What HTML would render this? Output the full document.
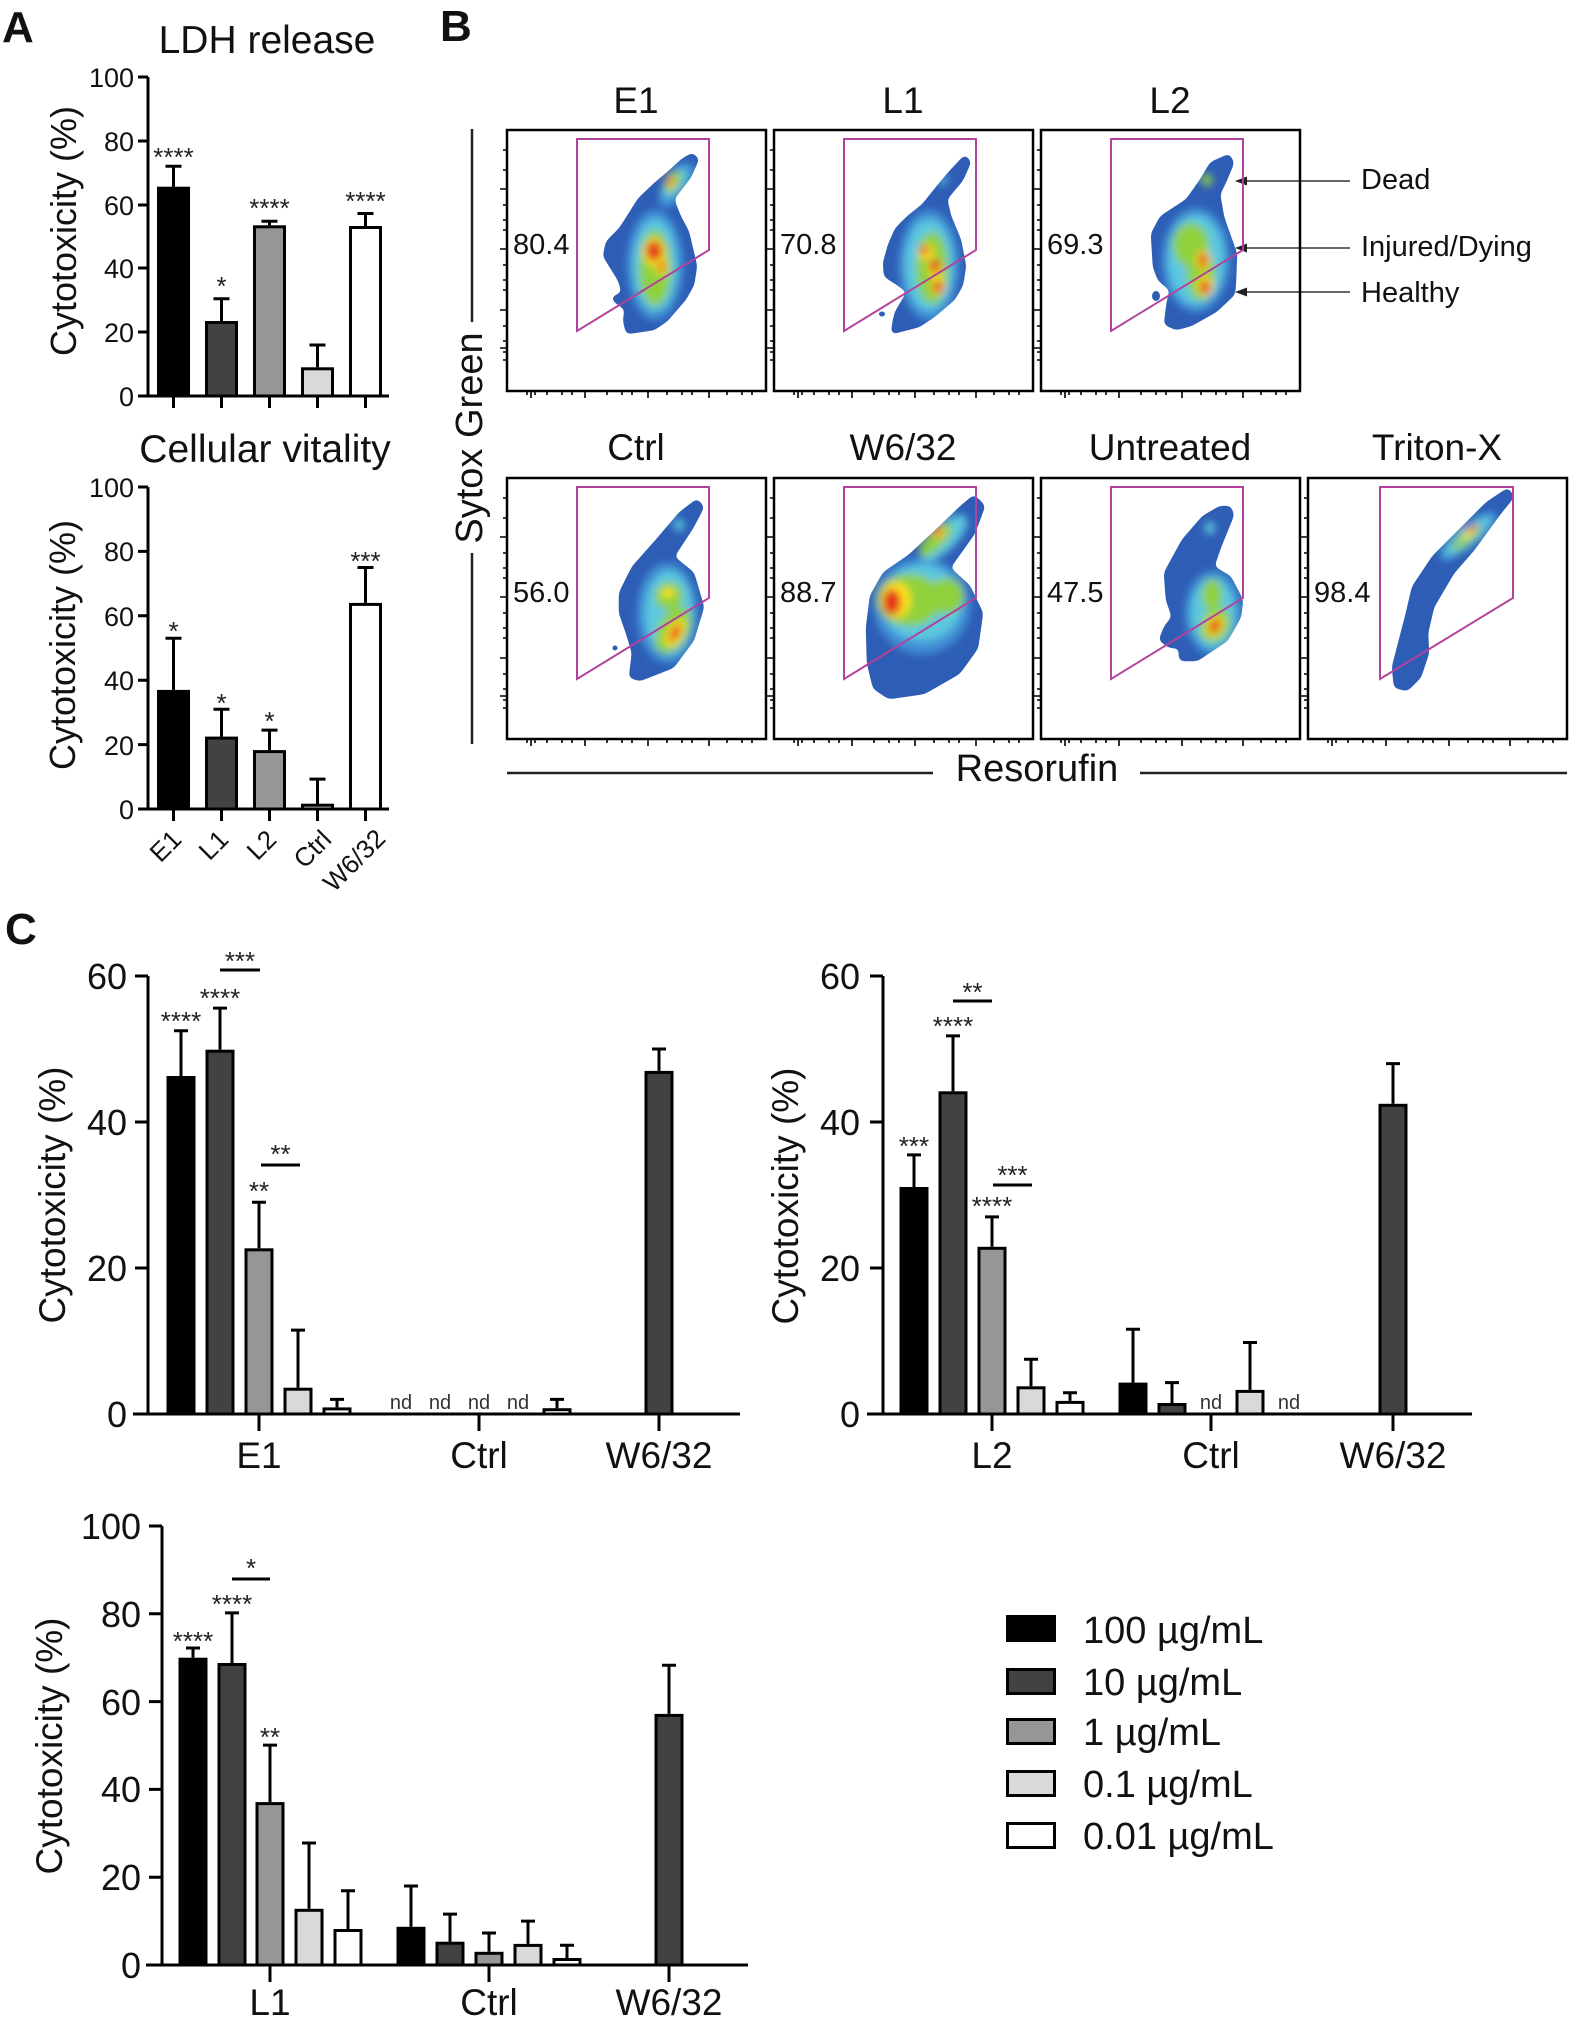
<!DOCTYPE html>
<html><head><meta charset="utf-8">
<style>
html,body{margin:0;padding:0;background:#fff;}
svg{display:block;}
text{font-family:"Liberation Sans",Arial,sans-serif;fill:#111;}
.ax{stroke:#000;stroke-width:3;fill:none;}
.eb{stroke:#000;stroke-width:3;fill:none;}
.br{stroke:#000;stroke-width:3;}
.st{font-size:26px;fill:#222;}
.nd{font-size:20px;fill:#333;}
.fr{fill:none;stroke:#000;stroke-width:2.5;}
.tk{stroke:#000;stroke-width:1.6;fill:none;}
.gate{fill:none;stroke:#b3429c;stroke-width:2;}
.blob{fill:#2d5db5;stroke:#2d5db5;stroke-width:2;stroke-linejoin:round;}
.lb{fill:#3f8fd6}.cy{fill:#5cc8e0}.gr{fill:#8fd13a}.ye{fill:#ffe21a}.re{fill:#e3261c}
.num{font-size:29px;}
.pt{font-size:37px;}
</style></head>
<body>
<svg width="1575" height="2021" viewBox="0 0 1575 2021" xmlns="http://www.w3.org/2000/svg">
<defs>
<filter id="bl" x="-30%" y="-30%" width="160%" height="160%"><feGaussianBlur stdDeviation="3"/></filter>
<filter id="goo" x="-15%" y="-15%" width="130%" height="130%"><feGaussianBlur in="SourceGraphic" stdDeviation="3" result="b"/><feComponentTransfer in="b"><feFuncA type="linear" slope="14" intercept="-6"/></feComponentTransfer></filter>
<path id="tks" d="M0,20 h-4 M0,40 h-4 M0,59 h-7 M0,75 h-4 M0,90 h-4 M0,100 h-4 M0,119 h-7 M0,135 h-4 M0,150 h-4 M0,160 h-4 M0,180 h-7 M0,196 h-4 M0,211 h-4 M0,218 h-7 M0,222 h-4 M0,230 h-4 M20,261 v4 M24,261 v7 M28,261 v4 M40,261 v4 M55,261 v4 M65,261 v4 M78,261 v7 M100,261 v4 M115,261 v4 M125,261 v4 M141,261 v7 M160,261 v4 M175,261 v4 M185,261 v4 M202,261 v7 M220,261 v4 M235,261 v4 M245,261 v4"/>
<path id="bE1" d="M185,24 L191,29 L183,47 L166,69 L172,85 L181,102 L189,136 L186,155 L178,169 L160,190 L147,199 L120,203 L117,190 L119,179 L109,172 L105,168 L116,163 L112,150 L97,126 L100,112 L113,99 L132,69 L150,52 L162,42 L175,30 Z"/>
<path id="bL1" d="M191,26 L196,32 L188,50 L172,69 L176,86 L186,110 L191,136 L188,155 L180,169 L160,186 L145,196 L118,203 L120,190 L122,182 L134,162 L125,155 L111,146 L110,133 L115,115 L122,99 L135,86 L149,75 L165,55 L176,42 Z"/>
<path id="bL2" d="M188,25 L192,33 L184,52 L178,64 L182,87 L195,124 L194,150 L193,164 L175,181 L150,195 L135,199 L124,194 L127,171 L130,160 L118,150 L113,137 L111,104 L120,87 L146,70 L160,50 L170,33 Z"/>
<path id="bCt" d="M190,22 L196,29 L185,50 L166,79 L186,95 L196,129 L186,162 L166,189 L133,202 L123,199 L126,175 L120,155 L113,135 L113,115 L126,89 L150,62 L173,35 Z"/>
<path id="bW6" d="M200,18 L210,28 L200,55 L175,90 L195,108 L208,135 L203,170 L185,195 L150,215 L115,220 L100,210 L94,185 L93,150 L97,118 L110,95 L135,78 L165,50 L188,28 Z"/>
<path id="bUn" d="M189,29 L192,37 L179,69 L172,89 L189,99 L201,122 L199,139 L186,162 L156,182 L139,182 L139,169 L129,169 L119,162 L124,149 L132,139 L126,122 L124,95 L142,62 L162,39 L179,29 Z"/>
<path id="bTr" d="M200,11 L205,19 L192,35 L165,72 L145,95 L125,129 L119,155 L120,175 L112,199 L99,212 L87,209 L85,189 L92,162 L99,135 L105,109 L125,79 L152,52 L179,25 Z"/>
<clipPath id="cE1"><use href="#bE1"/></clipPath>
<clipPath id="cL1"><use href="#bL1"/></clipPath>
<clipPath id="cL2"><use href="#bL2"/></clipPath>
<clipPath id="cCt"><use href="#bCt"/></clipPath>
<clipPath id="cW6"><use href="#bW6"/></clipPath>
<clipPath id="cUn"><use href="#bUn"/></clipPath>
<clipPath id="cTr"><use href="#bTr"/></clipPath>
</defs>

<!-- Panel labels -->
<text x="2" y="42" font-size="44" font-weight="bold">A</text>
<text x="440" y="41" font-size="44" font-weight="bold">B</text>
<text x="5" y="944" font-size="44" font-weight="bold">C</text>

<!-- ===== Panel A top: LDH release ===== -->
<text x="267" y="53" text-anchor="middle" font-size="39">LDH release</text>
<text transform="translate(76,231) rotate(-90)" text-anchor="middle" font-size="36">Cytotoxicity (%)</text>
<g font-size="27" text-anchor="end">
<text x="134" y="87">100</text><text x="134" y="151">80</text><text x="134" y="215">60</text>
<text x="134" y="278">40</text><text x="134" y="342">20</text><text x="134" y="406">0</text>
</g>
<rect class="br" x="158.5" y="188.2" width="30" height="207.8" fill="#000"/>
<rect class="br" x="206.5" y="322.5" width="30" height="73.5" fill="#424242"/>
<rect class="br" x="254.5" y="226.8" width="30" height="169.2" fill="#969696"/>
<rect class="br" x="302.5" y="368.8" width="30" height="27.2" fill="#d9d9d9"/>
<rect class="br" x="350.5" y="227.5" width="30" height="168.5" fill="#fff"/>
<path class="eb" d="M173.5,186.7 V166.3 M165.5,166.3 H181.5 M221.5,321 V298.7 M213.5,298.7 H229.5 M269.5,225.3 V221.2 M261.5,221.2 H277.5 M317.5,367.3 V345 M309.5,345 H325.5 M365.5,226 V213.5 M357.5,213.5 H373.5"/>
<path class="ax" d="M148,77 V396 M138,77 H148 M138,141 H148 M138,205 H148 M138,268 H148 M138,332 H148 M138,396 H389 M173.5,396 V408 M221.5,396 V408 M269.5,396 V408 M317.5,396 V408 M365.5,396 V408"/>
<g text-anchor="middle">
<text class="st" x="173.5" y="166">****</text><text class="st" x="221.5" y="295">*</text>
<text class="st" x="269.5" y="217">****</text><text class="st" x="365.5" y="210">****</text>
</g>

<!-- ===== Panel A bottom: Cellular vitality ===== -->
<text x="265" y="462" text-anchor="middle" font-size="39">Cellular vitality</text>
<text transform="translate(75,645) rotate(-90)" text-anchor="middle" font-size="36">Cytotoxicity (%)</text>
<g font-size="27" text-anchor="end">
<text x="134" y="497">100</text><text x="134" y="561">80</text><text x="134" y="626">60</text>
<text x="134" y="690">40</text><text x="134" y="755">20</text><text x="134" y="819">0</text>
</g>
<rect class="br" x="158.5" y="691.4" width="30" height="117.6" fill="#000"/>
<rect class="br" x="206.5" y="738.1" width="30" height="70.9" fill="#424242"/>
<rect class="br" x="254.5" y="751.6" width="30" height="57.4" fill="#969696"/>
<rect class="br" x="302.5" y="805.2" width="30" height="3.8" fill="#d9d9d9"/>
<rect class="br" x="350.5" y="604.4" width="30" height="204.6" fill="#fff"/>
<path class="eb" d="M173.5,689.9 V638.3 M165.5,638.3 H181.5 M221.5,736.6 V709.2 M213.5,709.2 H229.5 M269.5,750.1 V730.1 M261.5,730.1 H277.5 M317.5,804.2 V779.1 M309.5,779.1 H325.5 M365.5,602.9 V567.5 M357.5,567.5 H373.5"/>
<path class="ax" d="M148,487 V809 M138,487 H148 M138,551.4 H148 M138,615.8 H148 M138,680.2 H148 M138,744.6 H148 M138,809 H389 M173.5,809 V821 M221.5,809 V821 M269.5,809 V821 M317.5,809 V821 M365.5,809 V821"/>
<g text-anchor="middle">
<text class="st" x="173.5" y="640">*</text><text class="st" x="221.5" y="712">*</text>
<text class="st" x="269.5" y="730">*</text><text class="st" x="365.5" y="570">***</text>
</g>
<g font-size="26" text-anchor="end">
<text transform="translate(183,841) rotate(-45)">E1</text>
<text transform="translate(230,841) rotate(-45)">L1</text>
<text transform="translate(278,841) rotate(-45)">L2</text>
<text transform="translate(333,841) rotate(-45)">Ctrl</text>
<text transform="translate(387,840) rotate(-45)">W6/32</text>
</g>

<!-- ===== Panel B ===== -->
<g text-anchor="middle">
<text class="pt" x="636" y="113">E1</text><text class="pt" x="903" y="113">L1</text><text class="pt" x="1170" y="113">L2</text>
<text class="pt" x="636" y="460">Ctrl</text><text class="pt" x="903" y="460">W6/32</text><text class="pt" x="1170" y="460">Untreated</text><text class="pt" x="1437" y="460">Triton-X</text>
</g>
<path d="M472,129 V322 M472,553 V744 M507,773 H933 M1140,773 H1567" stroke="#222" stroke-width="2.5" fill="none"/>
<text transform="translate(482,438) rotate(-90)" text-anchor="middle" font-size="38">Sytox Green</text>
<text x="1037" y="781" text-anchor="middle" font-size="38">Resorufin</text>

<!-- annotations -->
<g stroke="#333" stroke-width="1.6" fill="none">
<path d="M1350,181 H1245 M1350,248 H1245 M1350,292 H1245"/>
</g>
<g fill="#222">
<polygon points="1235,181 1247,176.5 1247,185.5"/>
<polygon points="1235,248 1247,243.5 1247,252.5"/>
<polygon points="1235,292 1247,287.5 1247,296.5"/>
</g>
<g font-size="29">
<text x="1361" y="189">Dead</text>
<text x="1361" y="256">Injured/Dying</text>
<text x="1361" y="302">Healthy</text>
</g>

<!-- E1 plot -->
<g transform="translate(507,130)">
<use href="#tks" class="tk"/>
<g filter="url(#goo)">
<use href="#bE1" class="blob"/>
<g clip-path="url(#cE1)"><g filter="url(#bl)">
<ellipse class="lb" cx="148" cy="135" rx="28" ry="55"/><ellipse class="lb" cx="170" cy="55" rx="12" ry="26" transform="rotate(35 170 55)"/>
<ellipse class="cy" cx="148" cy="135" rx="22" ry="46"/><ellipse class="cy" cx="168" cy="53" rx="8" ry="18" transform="rotate(35 168 53)"/>
<ellipse class="gr" cx="148" cy="138" rx="16" ry="38"/><ellipse class="gr" cx="166" cy="52" rx="6" ry="12" transform="rotate(35 166 52)"/>
<ellipse class="ye" cx="147" cy="122" rx="11" ry="14"/><ellipse class="ye" cx="155" cy="137" rx="6" ry="8"/><ellipse class="ye" cx="164" cy="52" rx="4" ry="7"/>
<ellipse class="re" cx="147" cy="121" rx="8" ry="10"/><ellipse class="re" cx="155" cy="137" rx="3.5" ry="5"/><ellipse class="re" cx="164" cy="52" rx="2.5" ry="4"/>
</g></g>
</g>
<polygon class="gate" points="70,9 202,9 202,120 70,201"/>
<rect class="fr" x="0" y="0" width="259" height="261"/>
<text class="num" x="6" y="124">80.4</text>
</g>

<!-- L1 plot -->
<g transform="translate(774,130)">
<use href="#tks" class="tk"/>
<g filter="url(#goo)">
<use href="#bL1" class="blob"/>
<g clip-path="url(#cL1)"><g filter="url(#bl)">
<ellipse class="lb" cx="155" cy="135" rx="30" ry="55"/>
<ellipse class="cy" cx="155" cy="135" rx="24" ry="46"/><ellipse class="cy" cx="168" cy="49" rx="5" ry="6"/>
<ellipse class="gr" cx="158" cy="138" rx="16" ry="36"/>
<ellipse class="ye" cx="152" cy="122" rx="8" ry="8"/><ellipse class="ye" cx="161" cy="138" rx="7" ry="9"/><ellipse class="ye" cx="164" cy="156" rx="7" ry="9"/>
<ellipse class="re" cx="150" cy="120" rx="5" ry="4"/><ellipse class="re" cx="161" cy="136" rx="5" ry="7"/><ellipse class="re" cx="164" cy="157" rx="5" ry="6"/>
</g></g>
</g>
<ellipse cx="108" cy="184" rx="3" ry="2.5" fill="#2d5db5"/>
<polygon class="gate" points="70,9 202,9 202,120 70,201"/>
<rect class="fr" x="0" y="0" width="259" height="261"/>
<text class="num" x="6" y="124">70.8</text>
</g>

<!-- L2 plot -->
<g transform="translate(1041,130)">
<use href="#tks" class="tk"/>
<g filter="url(#goo)">
<use href="#bL2" class="blob"/>
<g clip-path="url(#cL2)"><g filter="url(#bl)">
<ellipse class="lb" cx="155" cy="130" rx="34" ry="52"/>
<ellipse class="cy" cx="155" cy="130" rx="28" ry="45"/><ellipse class="gr" cx="166" cy="50" rx="5" ry="6"/>
<ellipse class="gr" cx="150" cy="115" rx="18" ry="22"/><ellipse class="gr" cx="160" cy="145" rx="14" ry="25"/>
<ellipse class="ye" cx="162" cy="130" rx="7" ry="10"/><ellipse class="ye" cx="164" cy="156" rx="8" ry="10"/>
<ellipse class="re" cx="162" cy="130" rx="4" ry="8"/><ellipse class="re" cx="164" cy="157" rx="5" ry="7"/>
</g></g>
</g>
<ellipse cx="115" cy="166" rx="4" ry="5" fill="#2d5db5"/>
<polygon class="gate" points="70,9 202,9 202,120 70,201"/>
<rect class="fr" x="0" y="0" width="259" height="261"/>
<text class="num" x="6" y="124">69.3</text>
</g>

<!-- Ctrl plot -->
<g transform="translate(507,478)">
<use href="#tks" class="tk"/>
<g filter="url(#goo)">
<use href="#bCt" class="blob"/>
<g clip-path="url(#cCt)"><g filter="url(#bl)">
<ellipse class="lb" cx="160" cy="135" rx="30" ry="50"/>
<ellipse class="cy" cx="162" cy="135" rx="24" ry="42"/><ellipse class="cy" cx="172" cy="47" rx="5" ry="6"/>
<ellipse class="gr" cx="162" cy="118" rx="14" ry="14"/><ellipse class="gr" cx="166" cy="152" rx="15" ry="25" transform="rotate(30 166 152)"/>
<ellipse class="ye" cx="161" cy="115" rx="6" ry="5"/><ellipse class="ye" cx="168" cy="155" rx="8" ry="15" transform="rotate(30 168 155)"/>
<ellipse class="re" cx="168" cy="155" rx="4" ry="10" transform="rotate(30 168 155)"/>
</g></g>
</g>
<ellipse cx="108" cy="170" rx="2.5" ry="2.5" fill="#2d5db5"/>
<polygon class="gate" points="70,9 202,9 202,120 70,201"/>
<rect class="fr" x="0" y="0" width="259" height="261"/>
<text class="num" x="6" y="124">56.0</text>
</g>

<!-- W6/32 plot -->
<g transform="translate(774,478)">
<use href="#tks" class="tk"/>
<g filter="url(#goo)">
<use href="#bW6" class="blob"/>
<g clip-path="url(#cW6)"><g filter="url(#bl)">
<ellipse class="lb" cx="148" cy="128" rx="48" ry="48"/>
<ellipse class="cy" cx="148" cy="125" rx="40" ry="38"/>
<ellipse class="cy" cx="170" cy="60" rx="12" ry="30" transform="rotate(45 170 60)"/>
<ellipse class="gr" cx="135" cy="122" rx="32" ry="26"/><ellipse class="gr" cx="172" cy="118" rx="18" ry="18"/>
<ellipse class="gr" cx="162" cy="62" rx="8" ry="22" transform="rotate(45 162 62)"/>
<ellipse class="ye" cx="122" cy="122" rx="15" ry="18"/><ellipse class="ye" cx="164" cy="54" rx="6" ry="7"/>
<ellipse class="re" cx="118" cy="124" rx="9" ry="13"/><ellipse class="re" cx="164" cy="54" rx="3.5" ry="4.5"/>
</g></g>
</g>
<polygon class="gate" points="70,9 202,9 202,120 70,201"/>
<rect class="fr" x="0" y="0" width="259" height="261"/>
<text class="num" x="6" y="124">88.7</text>
</g>

<!-- Untreated plot -->
<g transform="translate(1041,478)">
<use href="#tks" class="tk"/>
<g filter="url(#goo)">
<use href="#bUn" class="blob"/>
<g clip-path="url(#cUn)"><g filter="url(#bl)">
<ellipse class="lb" cx="172" cy="135" rx="28" ry="42"/>
<ellipse class="cy" cx="172" cy="135" rx="22" ry="35"/><ellipse class="cy" cx="169" cy="50" rx="5" ry="6"/>
<ellipse class="gr" cx="171" cy="117" rx="10" ry="16"/><ellipse class="gr" cx="174" cy="147" rx="14" ry="18" transform="rotate(30 174 147)"/>
<ellipse class="ye" cx="174" cy="148" rx="8" ry="11" transform="rotate(30 174 148)"/>
<ellipse class="re" cx="174" cy="148" rx="5" ry="8" transform="rotate(30 174 148)"/>
</g></g>
</g>
<polygon class="gate" points="70,9 202,9 202,120 70,201"/>
<rect class="fr" x="0" y="0" width="259" height="261"/>
<text class="num" x="6" y="124">47.5</text>
</g>

<!-- Triton-X plot -->
<g transform="translate(1308,478)">
<use href="#tks" class="tk"/>
<g filter="url(#goo)">
<use href="#bTr" class="blob"/>
<g clip-path="url(#cTr)"><g filter="url(#bl)">
<ellipse class="lb" cx="160" cy="58" rx="10" ry="36" transform="rotate(50 160 58)"/>
<ellipse class="cy" cx="160" cy="58" rx="8" ry="30" transform="rotate(50 160 58)"/>
<ellipse class="gr" cx="158" cy="60" rx="5" ry="18" transform="rotate(50 158 60)"/>
<ellipse class="ye" cx="162" cy="54" rx="3.5" ry="10" transform="rotate(50 162 54)"/>
<ellipse class="re" cx="165" cy="50" rx="2.5" ry="5" transform="rotate(50 165 50)"/>
</g></g>
</g>
<polygon class="gate" points="72,9 205,9 205,120 72,201"/>
<rect class="fr" x="0" y="0" width="259" height="261"/>
<text class="num" x="6" y="124">98.4</text>
</g>

<!-- ===== Panel C top-left (E1) ===== -->
<text transform="translate(65,1195) rotate(-90)" text-anchor="middle" font-size="37">Cytotoxicity (%)</text>
<g font-size="36" text-anchor="end">
<text x="127" y="989">60</text><text x="127" y="1135">40</text><text x="127" y="1281">20</text><text x="127" y="1427">0</text>
</g>
<rect class="br" x="168" y="1077.5" width="26" height="336.5" fill="#000"/>
<rect class="br" x="207" y="1051.2" width="26" height="362.8" fill="#424242"/>
<rect class="br" x="246" y="1249.8" width="26" height="164.2" fill="#969696"/>
<rect class="br" x="285" y="1389.2" width="26" height="24.8" fill="#d9d9d9"/>
<rect class="br" x="324" y="1408.9" width="26" height="5.1" fill="#fff"/>
<rect class="br" x="544" y="1409.7" width="26" height="4.3" fill="#fff"/>
<rect class="br" x="646" y="1072.4" width="26" height="341.6" fill="#424242"/>
<path class="eb" d="M181,1076 V1030.8 M174,1030.8 H188 M220,1049.7 V1008.1 M213,1008.1 H227 M259,1248.3 V1202.3 M252,1202.3 H266 M298,1387.7 V1330.1 M291,1330.1 H305 M337,1407.4 V1399.4 M330,1399.4 H344 M557,1408.2 V1399.4 M550,1399.4 H564 M659,1070.9 V1049 M652,1049 H666"/>
<path class="ax" d="M148,976 V1414 M135,976 H148 M135,1122 H148 M135,1268 H148 M133,1414 H740 M259,1414 V1431 M479,1414 V1431 M659,1414 V1431"/>
<path class="ax" d="M220,970 H260 M261,1165 H300"/>
<g text-anchor="middle">
<text class="st" x="240" y="970">***</text><text class="st" x="280.5" y="1163">**</text>
<text class="st" x="181" y="1030">****</text><text class="st" x="220" y="1007">****</text><text class="st" x="259" y="1200">**</text>
<text class="nd" x="401" y="1409">nd</text><text class="nd" x="440" y="1409">nd</text><text class="nd" x="479" y="1409">nd</text><text class="nd" x="518" y="1409">nd</text>
</g>
<g font-size="37" text-anchor="middle">
<text x="259" y="1468">E1</text><text x="479" y="1468">Ctrl</text><text x="659" y="1468">W6/32</text>
</g>

<!-- ===== Panel C top-right (L2) ===== -->
<text transform="translate(798,1196) rotate(-90)" text-anchor="middle" font-size="37">Cytotoxicity (%)</text>
<g font-size="36" text-anchor="end">
<text x="860" y="989">60</text><text x="860" y="1135">40</text><text x="860" y="1281">20</text><text x="860" y="1427">0</text>
</g>
<rect class="br" x="901" y="1188.5" width="26" height="225.5" fill="#000"/>
<rect class="br" x="940" y="1092.8" width="26" height="321.2" fill="#424242"/>
<rect class="br" x="979" y="1248.3" width="26" height="165.7" fill="#969696"/>
<rect class="br" x="1018" y="1387.8" width="26" height="26.2" fill="#d9d9d9"/>
<rect class="br" x="1057" y="1402.4" width="26" height="11.6" fill="#fff"/>
<rect class="br" x="1120" y="1384.1" width="26" height="29.9" fill="#000"/>
<rect class="br" x="1159" y="1404.5" width="26" height="9.5" fill="#424242"/>
<rect class="br" x="1237" y="1391.4" width="26" height="22.6" fill="#d9d9d9"/>
<rect class="br" x="1380" y="1105.3" width="26" height="308.7" fill="#424242"/>
<path class="eb" d="M914,1187 V1154.9 M907,1154.9 H921 M953,1091.3 V1035.9 M946,1035.9 H960 M992,1246.8 V1216.9 M985,1216.9 H999 M1031,1386.3 V1359.3 M1024,1359.3 H1038 M1070,1400.9 V1392.8 M1063,1392.8 H1077 M1133,1382.6 V1329.3 M1126,1329.3 H1140 M1172,1403 V1382.6 M1165,1382.6 H1179 M1250,1389.9 V1342.5 M1243,1342.5 H1257 M1393,1103.8 V1063.6 M1386,1063.6 H1400"/>
<path class="ax" d="M883,976 V1414 M870,976 H883 M870,1122 H883 M870,1268 H883 M867,1414 H1472 M992,1414 V1431 M1211,1414 V1431 M1393,1414 V1431"/>
<path class="ax" d="M953,1001 H992 M993,1185 H1032"/>
<g text-anchor="middle">
<text class="st" x="972.5" y="1001">**</text><text class="st" x="1012.5" y="1184">***</text>
<text class="st" x="914" y="1155">***</text><text class="st" x="953" y="1035">****</text><text class="st" x="992" y="1215">****</text>
<text class="nd" x="1211" y="1409">nd</text><text class="nd" x="1289" y="1409">nd</text>
</g>
<g font-size="37" text-anchor="middle">
<text x="992" y="1468">L2</text><text x="1211" y="1468">Ctrl</text><text x="1393" y="1468">W6/32</text>
</g>

<!-- ===== Panel C bottom (L1) ===== -->
<text transform="translate(62,1746) rotate(-90)" text-anchor="middle" font-size="37">Cytotoxicity (%)</text>
<g font-size="36" text-anchor="end">
<text x="141" y="1539">100</text><text x="141" y="1627">80</text><text x="141" y="1715">60</text>
<text x="141" y="1802">40</text><text x="141" y="1890">20</text><text x="141" y="1978">0</text>
</g>
<rect class="br" x="180" y="1659.2" width="26" height="305.8" fill="#000"/>
<rect class="br" x="219" y="1664.5" width="26" height="300.5" fill="#424242"/>
<rect class="br" x="257" y="1803.6" width="26" height="161.4" fill="#969696"/>
<rect class="br" x="296" y="1910.3" width="26" height="54.7" fill="#d9d9d9"/>
<rect class="br" x="335" y="1930.5" width="26" height="34.5" fill="#fff"/>
<rect class="br" x="398" y="1928.3" width="26" height="36.7" fill="#000"/>
<rect class="br" x="437" y="1943.2" width="26" height="21.8" fill="#424242"/>
<rect class="br" x="476" y="1953.3" width="26" height="11.7" fill="#969696"/>
<rect class="br" x="515" y="1945.4" width="26" height="19.6" fill="#d9d9d9"/>
<rect class="br" x="554" y="1959.5" width="26" height="5.5" fill="#fff"/>
<rect class="br" x="656" y="1715.4" width="26" height="249.6" fill="#424242"/>
<path class="eb" d="M193,1657.7 V1648 M186,1648 H200 M232,1663 V1612.9 M225,1612.9 H239 M270,1802.1 V1745.1 M263,1745.1 H277 M309,1908.8 V1843 M302,1843 H316 M348,1929 V1890.8 M341,1890.8 H355 M411,1926.8 V1886 M404,1886 H418 M450,1941.7 V1914.1 M443,1914.1 H457 M489,1951.8 V1933 M482,1933 H496 M528,1943.9 V1921.1 M521,1921.1 H535 M567,1958 V1945.2 M560,1945.2 H574 M669,1713.9 V1665.2 M662,1665.2 H676"/>
<path class="ax" d="M162,1526 V1965 M149,1526 H162 M149,1613.8 H162 M149,1701.6 H162 M149,1789.4 H162 M149,1877.2 H162 M146,1965 H748 M270,1965 V1982 M489,1965 V1982 M669,1965 V1982"/>
<path class="ax" d="M232,1579 H270"/>
<g text-anchor="middle">
<text class="st" x="251" y="1577">*</text>
<text class="st" x="193" y="1650">****</text><text class="st" x="232" y="1613">****</text><text class="st" x="270" y="1746">**</text>
</g>
<g font-size="37" text-anchor="middle">
<text x="270" y="2015">L1</text><text x="489" y="2015">Ctrl</text><text x="669" y="2015">W6/32</text>
</g>

<!-- Legend -->
<rect class="br" x="1007.5" y="1616.5" width="47" height="24" fill="#000"/>
<rect class="br" x="1007.5" y="1669.5" width="47" height="24" fill="#424242"/>
<rect class="br" x="1007.5" y="1719.5" width="47" height="24" fill="#969696"/>
<rect class="br" x="1007.5" y="1771.5" width="47" height="24" fill="#d9d9d9"/>
<rect class="br" x="1007.5" y="1823.5" width="47" height="24" fill="#fff"/>
<g font-size="38">
<text x="1083" y="1643">100 µg/mL</text>
<text x="1083" y="1695">10 µg/mL</text>
<text x="1083" y="1745">1 µg/mL</text>
<text x="1083" y="1797">0.1 µg/mL</text>
<text x="1083" y="1849">0.01 µg/mL</text>
</g>
</svg>
</body></html>
